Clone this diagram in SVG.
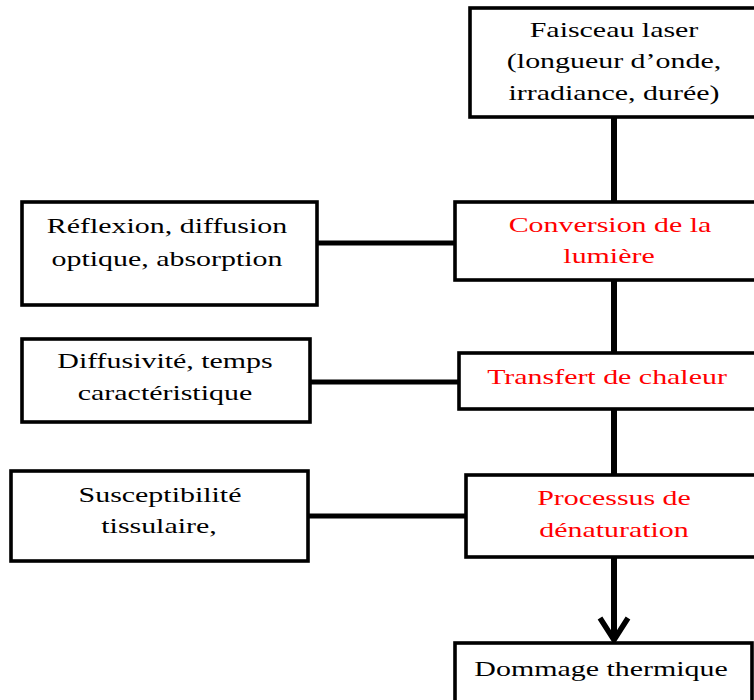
<svg xmlns="http://www.w3.org/2000/svg" width="754" height="700" viewBox="0 0 754 700">
<style>
.box{fill:#fff;stroke:#000;stroke-width:3.6}
.t{font-family:"Liberation Serif","Times New Roman",serif;font-size:22px;text-anchor:middle;fill:#000}
.r{fill:#ff0000}
.c{stroke:#000;fill:none}
</style>
<rect width="754" height="700" fill="#fff"/>
<g id="connectors">
<line class="c" x1="614" y1="117" x2="614" y2="202" stroke-width="6"/>
<line class="c" x1="614" y1="280" x2="614" y2="353" stroke-width="6"/>
<line class="c" x1="614" y1="409" x2="614" y2="475" stroke-width="6"/>
<line class="c" x1="614" y1="557" x2="614" y2="638" stroke-width="6"/>
<polyline class="c" points="600,618 614,640 628,618" stroke-width="5.5" stroke-linejoin="miter"/>
<line class="c" x1="317" y1="243" x2="455" y2="243" stroke-width="5"/>
<line class="c" x1="310" y1="382" x2="459" y2="382" stroke-width="5"/>
<line class="c" x1="308" y1="516" x2="466" y2="516" stroke-width="5"/>
</g>
<g id="laser">
<rect class="box" x="470" y="8" width="300" height="109"/>
<text class="t" transform="translate(614,37) scale(1.36,1)">Faisceau laser</text>
<text class="t" transform="translate(614,68) scale(1.36,1)">(longueur d’onde,</text>
<text class="t" transform="translate(614,100) scale(1.36,1)">irradiance, durée)</text>
</g>
<g id="reflexion">
<rect class="box" x="22" y="202" width="295" height="103"/>
<text class="t" transform="translate(167,233) scale(1.36,1)">Réflexion, diffusion</text>
<text class="t" transform="translate(167,266) scale(1.36,1)">optique, absorption</text>
</g>
<g id="conversion">
<rect class="box" x="455" y="202" width="315" height="78"/>
<text class="t r" transform="translate(610,232) scale(1.36,1)">Conversion de la</text>
<text class="t r" transform="translate(609,263) scale(1.36,1)">lumière</text>
</g>
<g id="diffusivite">
<rect class="box" x="22" y="339" width="288" height="83"/>
<text class="t" transform="translate(165,368) scale(1.36,1)">Diffusivité, temps</text>
<text class="t" transform="translate(165,400) scale(1.36,1)">caractéristique</text>
</g>
<g id="transfert">
<rect class="box" x="459" y="353" width="311" height="56"/>
<text class="t r" transform="translate(607,384) scale(1.36,1)">Transfert de chaleur</text>
</g>
<g id="susceptibilite">
<rect class="box" x="11" y="471" width="297" height="90"/>
<text class="t" transform="translate(160,502) scale(1.36,1)">Susceptibilité</text>
<text class="t" transform="translate(159,533) scale(1.36,1)">tissulaire,</text>
</g>
<g id="processus">
<rect class="box" x="466" y="475" width="304" height="82"/>
<text class="t r" transform="translate(614,505) scale(1.36,1)">Processus de</text>
<text class="t r" transform="translate(614,537) scale(1.36,1)">dénaturation</text>
</g>
<g id="dommage">
<rect class="box" x="455" y="643" width="297" height="70"/>
<text class="t" transform="translate(601,676) scale(1.36,1)">Dommage thermique</text>
</g>
</svg>
